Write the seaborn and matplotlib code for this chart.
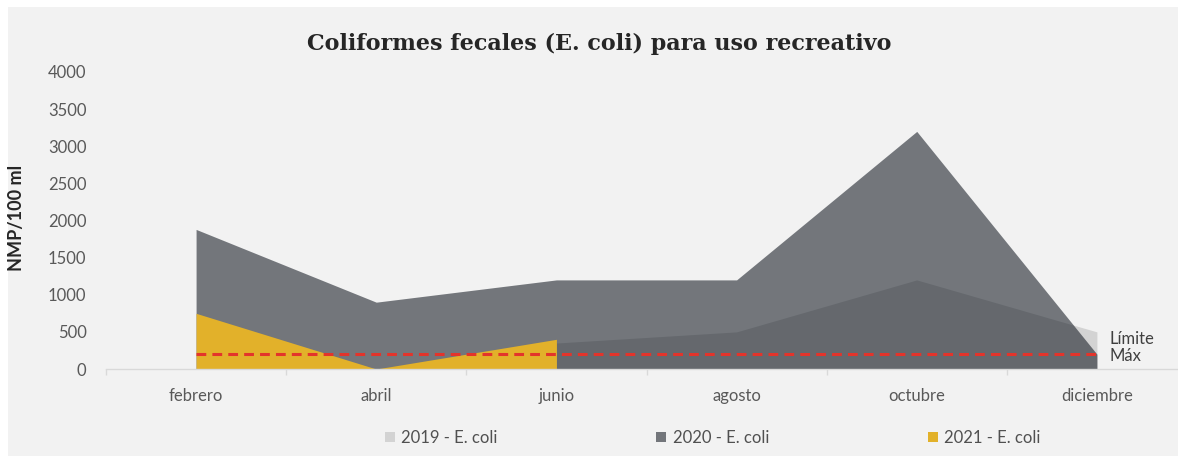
import numpy as np
import pandas as pd
import seaborn as sns
import matplotlib.pyplot as plt
from matplotlib.patches import Rectangle

# datos (NMP/100 ml)
meses = ['febrero', 'abril', 'junio', 'agosto', 'octubre', 'diciembre']
ecoli_2019 = [np.nan, np.nan, 350, 500, 1200, 500]
ecoli_2020 = [1880, 900, 1200, 1200, 3200, 200]
ecoli_2021 = [750, 0, 400, np.nan, np.nan, np.nan]
limite_max = [200, 200, 200, 200, 200, 200]

sns.set_theme(style="white")
plt.rcParams['font.family'] = ['Lato', 'DejaVu Sans']

df = pd.DataFrame({'mes': meses, 'x': range(len(meses)),
                   '2019': ecoli_2019, '2020': ecoli_2020, '2021': ecoli_2021,
                   'limite': limite_max})

fig = plt.figure(figsize=(11.78, 4.59), dpi=100, facecolor='white')
# fondo gris claro con borde blanco
fig.patches.append(Rectangle((8 / 1178, 3 / 459), 1170 / 1178, 449 / 459,
                             transform=fig.transFigure, facecolor='#f2f2f2',
                             edgecolor='none', zorder=-1))
ax = fig.add_axes([106 / 1178, 90 / 459, 1081 / 1178, 297 / 459])
ax.set_facecolor('none')

# areas (orden como en Excel: 2019 atras, 2021 delante)
a19 = ax.fill_between(df['x'], 0, df['2019'], color='#d3d3d3', linewidth=0,
                      label='2019 - E. coli')
a20 = ax.fill_between(df['x'], 0, df['2020'], color='#0b111a', alpha=0.55,
                      linewidth=0, label='2020 - E. coli')
a21 = ax.fill_between(df['x'], 0, df['2021'], color='#e2b12a', linewidth=0,
                      label='2021 - E. coli')

# limite maximo
sns.lineplot(data=df, x='x', y='limite', ax=ax, color='#e3342b', linewidth=2.2,
             linestyle=(0, (3.2, 2)), legend=False)
ax.annotate('Límite\nMáx', xy=(df['x'].iloc[-1], df['limite'].iloc[-1]),
            xytext=(9, 5), textcoords='offset points', ha='left', va='center',
            fontsize=12, color='#404040', linespacing=1.1)

ax.set_xlim(-0.5, 5.5)
ax.set_ylim(0, 4000)
ax.set_yticks(range(0, 4001, 500))
ax.set_xticks(df['x'])
ax.set_xticklabels(meses)
ax.set_xticks(np.arange(-0.5, 5.6, 1), minor=True)
ax.tick_params(axis='x', which='major', length=0, pad=14, labelsize=12,
               labelcolor='#595959')
ax.tick_params(axis='x', which='minor', length=4, width=1, color='#d9d9d9',
               bottom=True)
ax.tick_params(axis='y', length=0, pad=14, labelsize=12, labelcolor='#595959')
ax.set_xlabel('')
ax.set_ylabel('NMP/100 ml', fontsize=13, fontweight='bold', color='#262626',
              labelpad=16)
ax.yaxis.set_label_coords(-0.075, 0.51)
for s in ['top', 'right', 'left']:
    ax.spines[s].set_visible(False)
ax.spines['bottom'].set_color('#d9d9d9')
ax.spines['bottom'].set_linewidth(1)

fig.text(0.509, 1 - 44 / 459, 'Coliformes fecales (E. coli) para uso recreativo',
         ha='center', va='center', fontsize=16, fontweight='bold',
         family=['DejaVu Serif'], color='#262626')

fig.legend(handles=[a19, a20, a21], loc='center', bbox_to_anchor=(0.605, 1 - 438 / 459),
           ncol=3, frameon=False, fontsize=12, handlelength=0.6, handleheight=0.6,
           handletextpad=0.4, columnspacing=9.5, labelcolor='#505050')

fig.savefig('out.png', dpi=100, facecolor=fig.get_facecolor())
